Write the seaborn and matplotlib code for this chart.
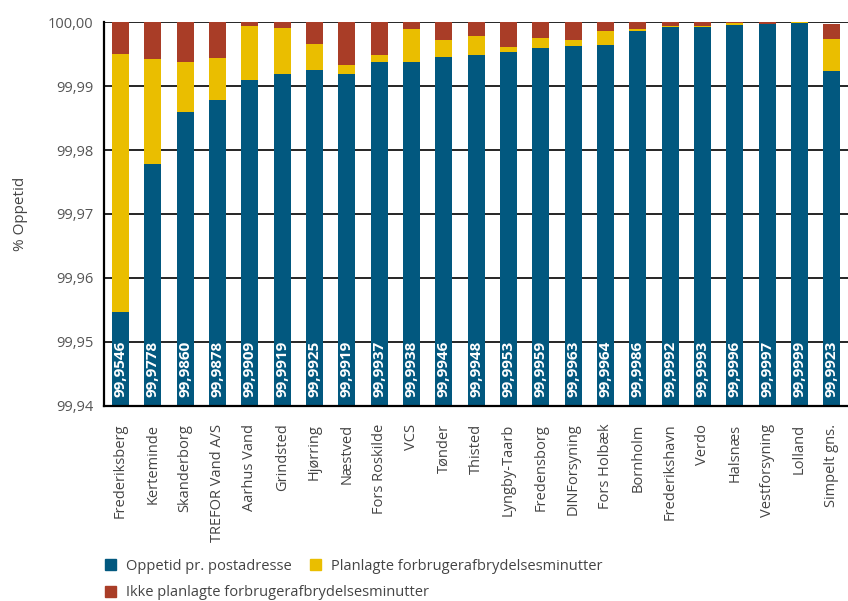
import pandas as pd
import matplotlib.pyplot as plt
import seaborn as sns
from matplotlib.patches import Patch

# data
selskaber = ["Frederiksberg", "Kerteminde", "Skanderborg", "TREFOR Vand A/S", "Aarhus Vand",
             "Grindsted", "Hjørring", "Næstved", "Fors Roskilde", "VCS", "Tønder", "Thisted",
             "Lyngby-Taarb", "Fredensborg", "DINForsyning", "Fors Holbæk", "Bornholm",
             "Frederikshavn", "Verdo", "Halsnæs", "Vestforsyning", "Lolland", "Simpelt gns."]
oppetid = [99.9546, 99.9778, 99.9860, 99.9878, 99.9909, 99.9919, 99.9925, 99.9919, 99.9937,
           99.9938, 99.9946, 99.9948, 99.9953, 99.9959, 99.9963, 99.9964, 99.9986, 99.9992,
           99.9993, 99.9996, 99.9997, 99.9999, 99.9923]
# top of the yellow part (oppetid + planlagte)
med_planlagte = [99.9951, 99.9943, 99.9938, 99.9944, 99.9994, 99.9991, 99.9966, 99.9933,
                 99.9949, 99.9990, 99.9972, 99.9979, 99.9961, 99.9976, 99.9972, 99.9986,
                 99.9990, 99.9994, 99.9994, 99.9999, 99.9997, 100.0, 99.9974]
# top of the red part (everything)
i_alt = [100.0, 100.0, 100.0, 100.0, 100.0, 100.0, 100.0, 100.0, 100.0, 100.0, 100.0,
         100.0, 100.0, 100.0, 100.0, 100.0, 100.0, 100.0, 100.0, 100.0, 100.0, 100.0, 99.9997]
labels = ["99,9546", "99,9778", "99,9860", "99,9878", "99,9909", "99,9919", "99,9925",
          "99,9919", "99,9937", "99,9938", "99,9946", "99,9948", "99,9953", "99,9959",
          "99,9963", "99,9964", "99,9986", "99,9992", "99,9993", "99,9996", "99,9997",
          "99,9999", "99,9923"]

blaa = "#02587F"
gul = "#EABE00"
roed = "#A93D27"

df = pd.DataFrame({"selskab": selskaber, "oppetid": oppetid,
                   "planlagte": med_planlagte, "total": i_alt})

sns.set_style("white")
plt.rcParams['font.family'] = ['Open Sans', 'DejaVu Sans']

fig = plt.figure(figsize=(8.48, 6.01), dpi=100)
ax = fig.add_axes([0.123, 0.325, 0.877, 0.638])

# stacked by overlapping the cumulative values
sns.barplot(data=df, x="selskab", y="total", color=roed, width=0.53, saturation=1, ax=ax)
sns.barplot(data=df, x="selskab", y="planlagte", color=gul, width=0.53, saturation=1, ax=ax)
sns.barplot(data=df, x="selskab", y="oppetid", color=blaa, width=0.53, saturation=1, ax=ax)
for p in ax.patches:
    p.set_linewidth(0)

for i in range(len(labels)):
    ax.text(i, 99.9413, labels[i], rotation=90, ha="center", va="bottom",
            color="white", fontsize=11, fontweight="bold")

ax.set_ylim(99.94, 100.0)
ax.set_xlim(-0.5, len(selskaber) - 0.5)
ax.set_yticks([99.94, 99.95, 99.96, 99.97, 99.98, 99.99, 100.0])
ax.set_yticklabels(["99,94", "99,95", "99,96", "99,97", "99,98", "99,99", "100,00"],
                   color="#555555", fontsize=10.5)
ax.set_xticks(range(len(selskaber)))
ax.set_xticklabels(selskaber, rotation=90, color="#444444", fontsize=10.5)
ax.tick_params(axis="x", length=0, pad=13)
ax.tick_params(axis="y", length=0, pad=8)
ax.set_xlabel("")
ax.set_ylabel("% Oppetid", color="#444444", fontsize=11)
ax.yaxis.set_label_coords(-0.103, 0.5)

ax.grid(axis="y", color="black", linewidth=1.2)
ax.set_axisbelow(True)
sns.despine(ax=ax, top=True, right=True)
ax.spines['left'].set_color("black")
ax.spines['bottom'].set_color("black")
ax.spines['left'].set_linewidth(1.6)
ax.spines['bottom'].set_linewidth(1.6)

# two legend rows like the reference
leg_args = dict(loc="center left", frameon=False, fontsize=10.5, handlelength=0.75,
                handleheight=0.75, handletextpad=0.65, columnspacing=1.3,
                borderaxespad=0, borderpad=0)
leg1 = fig.legend([Patch(color=blaa), Patch(color=gul)],
                  ["Oppetid pr. postadresse", "Planlagte forbrugerafbrydelsesminutter"],
                  ncol=2, bbox_to_anchor=(0.124, 1 - 566 / 601), **leg_args)
leg2 = fig.legend([Patch(color=roed)], ["Ikke planlagte forbrugerafbrydelsesminutter"],
                  bbox_to_anchor=(0.124, 1 - 593 / 601), **leg_args)
for leg in (leg1, leg2):
    for t in leg.get_texts():
        t.set_color("#444444")

plt.savefig("out.png", dpi=100)
